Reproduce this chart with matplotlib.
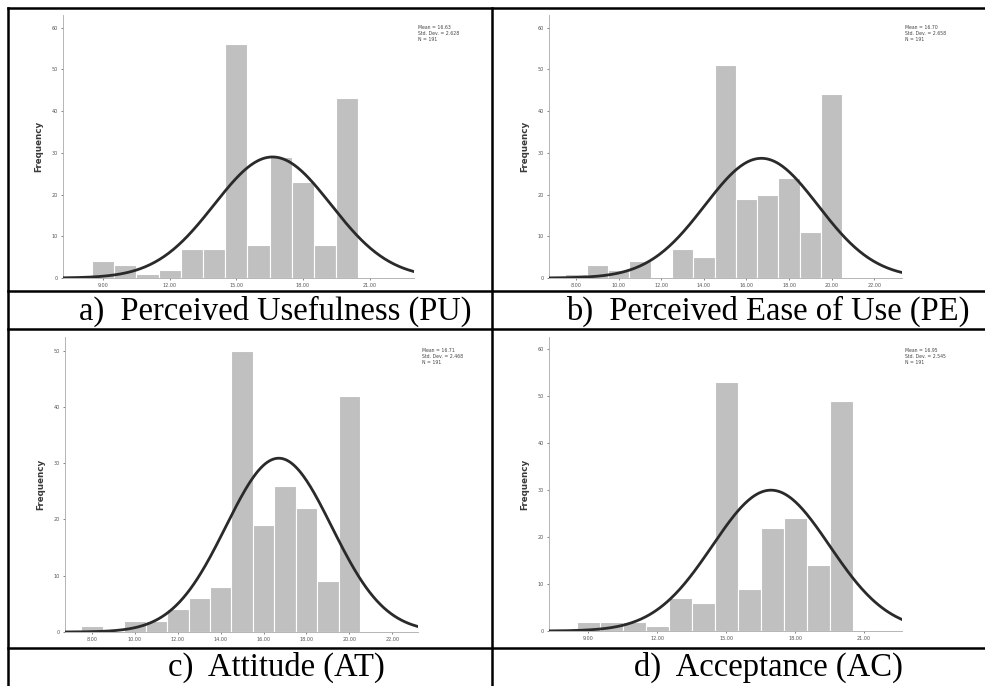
import numpy as np
import matplotlib
matplotlib.use("Agg")
import matplotlib.pyplot as plt
from matplotlib.lines import Line2D

# bin centres (width 1) and counts
pu_bins = [9, 10, 11, 12, 13, 14, 15, 16, 17, 18, 19, 20]
pu_counts = [4, 3, 1, 2, 7, 7, 56, 8, 29, 23, 8, 43]

pe_bins = [8, 9, 10, 11, 12, 13, 14, 15, 16, 17, 18, 19, 20]
pe_counts = [1, 3, 2, 4, 0, 7, 5, 51, 19, 20, 24, 11, 44]

at_bins = [8, 9, 10, 11, 12, 13, 14, 15, 16, 17, 18, 19, 20]
at_counts = [1, 0, 2, 2, 4, 6, 8, 50, 19, 26, 22, 9, 42]

ac_bins = [9, 10, 11, 12, 13, 14, 15, 16, 17, 18, 19, 20]
ac_counts = [2, 2, 2, 1, 7, 6, 53, 9, 22, 24, 14, 49]

pu_xticks = [9, 12, 15, 18, 21]
pe_xticks = [8, 10, 12, 14, 16, 18, 20, 22]
at_xticks = [8, 10, 12, 14, 16, 18, 20, 22]
ac_xticks = [9, 12, 15, 18, 21]

captions = ["a)  Perceived Usefulness (PU)", "b)  Perceived Ease of Use (PE)",
            "c)  Attitude (AT)", "d)  Acceptance (AC)"]

W, H = 985, 686
fig = plt.figure(figsize=(W / 100, H / 100), dpi=100)


def px_axes(x0, y0, x1, y1):
    # pixel box (top-left origin) -> figure axes
    return fig.add_axes([x0 / W, 1 - y1 / H, (x1 - x0) / W, (y1 - y0) / H])


def hist_panel(box, bins, counts, xticks, xlim, ylim, yticks, stats_xy):
    ax = px_axes(*box)
    bins = np.array(bins, dtype=float)
    counts = np.array(counts, dtype=float)
    ax.bar(bins, counts, width=1.0, color="#c0c0c0", edgecolor="white", linewidth=0.8, zorder=2)

    n = counts.sum()
    mean = (bins * counts).sum() / n
    sd = np.sqrt(((bins - mean) ** 2 * counts).sum() / (n - 1))
    xs = np.linspace(xlim[0], xlim[1], 300)
    curve = n / (sd * np.sqrt(2 * np.pi)) * np.exp(-0.5 * ((xs - mean) / sd) ** 2)
    ax.plot(xs, curve, color="#2a2a2a", lw=2.0, zorder=3)

    ax.set_xlim(xlim)
    ax.set_ylim(ylim)
    ax.set_xticks(xticks)
    ax.set_xticklabels(["%.2f" % t for t in xticks])
    ax.set_yticks(yticks)
    ax.tick_params(labelsize=3.5, colors="#555555", length=1.5, width=0.5, pad=2)
    for s in ["top", "right"]:
        ax.spines[s].set_visible(False)
    for s in ["left", "bottom"]:
        ax.spines[s].set_color("#aaaaaa")
        ax.spines[s].set_linewidth(0.6)
    ax.set_ylabel("Frequency", fontsize=6.3, color="#3a3a3a", fontweight="bold", labelpad=6)

    fig.text(stats_xy[0] / W, 1 - stats_xy[1] / H,
             "Mean = %.2f\nStd. Dev. = %.3f\nN = %d" % (mean, sd, n),
             fontsize=3.3, color="#444444", va="top", ha="left", linespacing=1.3)


hist_panel((63, 15, 414, 278), pu_bins, pu_counts, pu_xticks, (7.2, 23.0), (0, 63),
           range(0, 61, 10), (418, 25))
hist_panel((549, 15, 902, 278), pe_bins, pe_counts, pe_xticks, (6.73, 23.3), (0, 63),
           range(0, 61, 10), (905, 25))
hist_panel((65, 337, 418, 632), at_bins, at_counts, at_xticks, (6.74, 23.2), (0, 52.4),
           range(0, 51, 10), (422, 348))
hist_panel((549, 337, 902, 631), ac_bins, ac_counts, ac_xticks, (7.3, 22.65), (0, 62.5),
           range(0, 61, 10), (905, 348))

# captions
cap_pos = [(275, 311), (768, 311), (276, 667), (768, 667)]
for (cx, cy), txt in zip(cap_pos, captions):
    fig.text(cx / W, 1 - cy / H, txt, fontsize=23.5, family="Liberation Serif",
             ha="center", va="center", color="black")


# table border lines
def hline(y, x0=8, x1=985):
    fig.add_artist(Line2D([x0 / W, x1 / W], [1 - y / H, 1 - y / H], color="black", lw=1.8))


def vline(x, y0=8, y1=686):
    fig.add_artist(Line2D([x / W, x / W], [1 - y0 / H, 1 - y1 / H], color="black", lw=1.8))


hline(8)
hline(291)
hline(329)
hline(648)
vline(8)
vline(492)

fig.savefig("out.png", dpi=100)
